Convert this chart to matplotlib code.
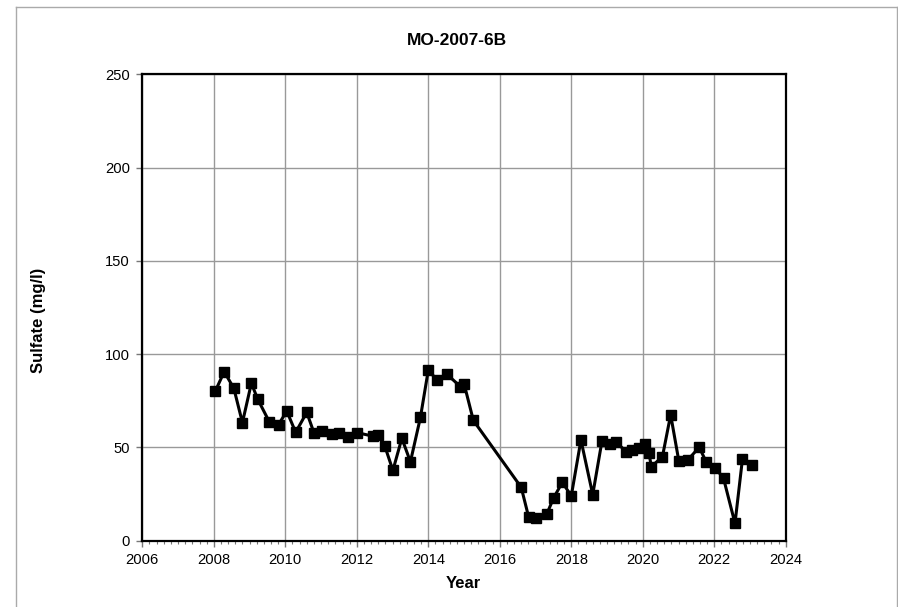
import matplotlib
matplotlib.use("Agg")
import matplotlib.pyplot as plt
from matplotlib.lines import Line2D
from matplotlib.ticker import MultipleLocator

# sample dates (decimal year) and sulfate concentrations
years = [2008.04, 2008.29, 2008.56, 2008.80, 2009.05, 2009.23, 2009.55, 2009.81,
         2010.04, 2010.29, 2010.60, 2010.80, 2011.03, 2011.31, 2011.50, 2011.75,
         2012.01, 2012.44, 2012.59, 2012.78, 2013.01, 2013.26, 2013.50, 2013.78,
         2014.00, 2014.25, 2014.51, 2014.90, 2015.00, 2015.26,
         2016.60, 2016.81, 2017.02, 2017.31, 2017.51, 2017.75, 2018.00, 2018.27,
         2018.60, 2018.86, 2019.09, 2019.25, 2019.54, 2019.71, 2019.90, 2020.07,
         2020.17, 2020.24, 2020.55, 2020.78, 2021.01, 2021.26, 2021.58, 2021.77,
         2022.03, 2022.26, 2022.58, 2022.79, 2023.05]
sulfate = [80.1, 90.6, 81.7, 63.3, 84.4, 75.8, 63.8, 62.2,
           69.5, 58.1, 68.8, 57.9, 58.8, 57.4, 57.6, 55.8,
           57.9, 56.1, 56.5, 50.9, 37.7, 54.9, 42.3, 66.1,
           91.5, 86.0, 89.4, 82.6, 84.2, 64.5,
           28.6, 12.5, 12.3, 14.1, 23.1, 31.3, 24.0, 54.0,
           24.7, 53.6, 51.7, 52.9, 47.7, 48.6, 49.5, 51.8,
           47.2, 39.7, 45.0, 67.5, 42.6, 43.3, 50.1, 42.4,
           39.1, 33.4, 9.3, 44.0, 40.7]

plt.rcParams['font.family'] = ['Liberation Sans', 'DejaVu Sans']

fig = plt.figure(figsize=(8.98, 6.07), dpi=100)
ax = fig.add_axes([0.1585, 0.1092, 0.7165, 0.7684])

ax.plot(years, sulfate, color='black', linewidth=2.2, marker='s',
        markersize=7, markerfacecolor='black', markeredgecolor='black', zorder=3)

ax.set_xlim(2006, 2024)
ax.set_ylim(0, 250)
ax.xaxis.set_major_locator(MultipleLocator(2))
ax.xaxis.set_minor_locator(MultipleLocator(0.2))
ax.yaxis.set_major_locator(MultipleLocator(50))
ax.grid(True, which='major', color='#999999', linewidth=1.0)
ax.set_axisbelow(True)

ax.tick_params(axis='both', which='major', labelsize=10.6, length=4,
               width=1, color='#777777', direction='out', pad=5)
ax.tick_params(axis='x', which='minor', length=2.5, width=0.8,
               color='#777777', direction='out')
ax.tick_params(axis='y', which='minor', length=0)
for s in ax.spines.values():
    s.set_linewidth(1.6)
    s.set_color('black')

fig.text(0.5084, 0.933, 'MO-2007-6B', ha='center', va='center',
         fontsize=12.5, fontweight='bold')
fig.text(0.5156, 0.0395, 'Year', ha='center', va='center',
         fontsize=12, fontweight='bold')
fig.text(0.0434, 0.473, 'Sulfate (mg/l)', ha='center', va='center',
         rotation=90, fontsize=12, fontweight='bold')

# chart area border (bottom edge is cut off in the original)
bx0, bx1, by1 = 16.3 / 898, 896.7 / 898, 1 - 7 / 607
for xs, ys in [([bx0, bx0], [0, by1]), ([bx0, bx1], [by1, by1]), ([bx1, bx1], [by1, 0])]:
    fig.add_artist(Line2D(xs, ys, color='#aaaaaa', linewidth=1.0,
                          transform=fig.transFigure))

fig.savefig('out.png', dpi=100)
